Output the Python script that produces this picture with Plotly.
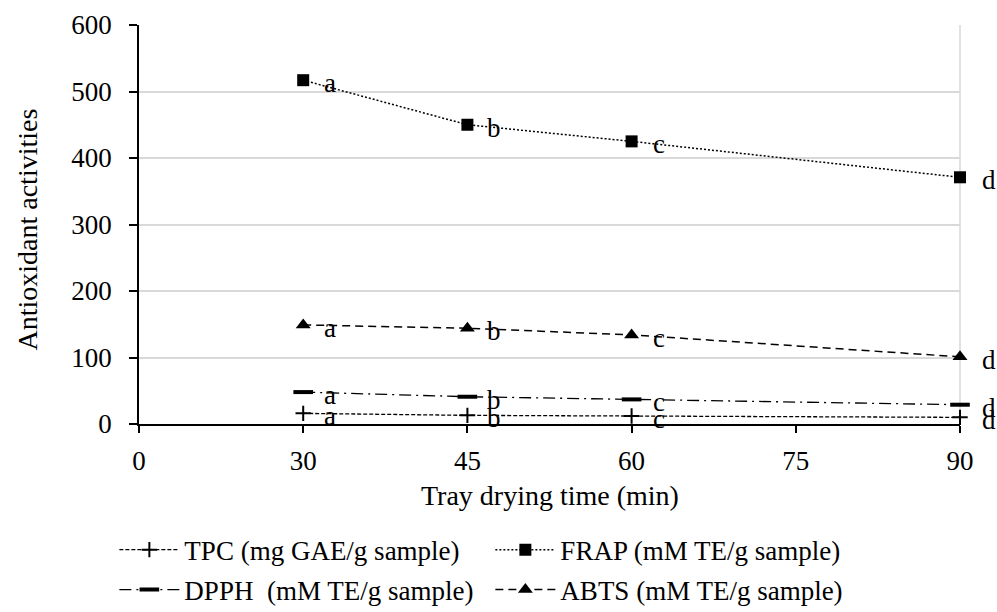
import plotly.graph_objects as go

# ---- data ----
categories = ["0", "30", "45", "60", "75", "90"]
times = ["30", "45", "60", "90"]
tpc = [16, 13, 12, 10]
frap = [517, 450, 425, 371]
dpph = [48, 41, 37, 29]
abts = [149, 144, 134, 101]
letters = ["a", "b", "c", "d"]

names = {
    "tpc": "TPC (mg GAE/g sample)",
    "frap": "FRAP (mM TE/g sample)",
    "dpph": "DPPH  (mM TE/g sample)",
    "abts": "ABTS (mM TE/g sample)",
}
x_title = "Tray drying time (min)"
y_title = "Antioxidant activities"

FONT = "Liberation Serif, Times New Roman, serif"
FS = 27
xpos = [categories.index(t) for t in times]

fig = go.Figure()

fig.add_trace(go.Scatter(
    x=xpos, y=tpc, name=names["tpc"], mode="lines+markers", cliponaxis=False,
    line=dict(color="black", width=1.3, dash="4px,2px"),
    marker=dict(symbol="cross-thin", size=11, line=dict(color="black", width=2)),
    legend="legend"))
fig.add_trace(go.Scatter(
    x=xpos, y=frap, name=names["frap"], mode="lines+markers", cliponaxis=False,
    line=dict(color="black", width=1.5, dash="2px,2px"),
    marker=dict(symbol="square", size=12, color="black"),
    legend="legend"))
fig.add_trace(go.Scatter(
    x=xpos, y=dpph, name=names["dpph"], mode="lines+markers", cliponaxis=False,
    line=dict(color="black", width=1.3, dash="12px,5px,2px,5px"),
    marker=dict(symbol="line-ew", size=14, line=dict(color="black", width=4)),
    legend="legend2"))
fig.add_trace(go.Scatter(
    x=xpos, y=abts, name=names["abts"], mode="lines+markers", cliponaxis=False,
    line=dict(color="black", width=1.5, dash="8px,5px"),
    marker=dict(symbol="triangle-up", size=13, color="black"),
    legend="legend2"))

# letter annotations
for series in (tpc, frap, dpph, abts):
    for xp, yv, lt in zip(xpos, series, letters):
        fig.add_annotation(
            x=xp, y=yv, text=lt, showarrow=False,
            xshift=27 if lt != "d" else 29, yshift=-3,
            font=dict(family=FONT, size=FS, color="black"))

# axis titles
fig.add_annotation(xref="paper", yref="paper", x=0, y=0.5, text=y_title,
                   textangle=-90, showarrow=False, xanchor="center", yanchor="middle",
                   xshift=-112, yshift=-5, font=dict(family=FONT, size=28, color="black"))
fig.add_annotation(xref="paper", yref="paper", x=0.5, y=0, text=x_title,
                   showarrow=False, xanchor="center", yanchor="middle",
                   yshift=-71, font=dict(family=FONT, size=28, color="black"))

# right border
fig.add_shape(type="line", xref="paper", yref="paper", x0=1, x1=1, y0=0, y1=1,
              line=dict(color="#d9d9d9", width=1.5), layer="below")

legend_common = dict(
    orientation="h", xref="paper", yref="paper", xanchor="left", yanchor="middle",
    font=dict(family=FONT, size=FS, color="black"), bgcolor="rgba(0,0,0,0)",
    entrywidth=301, entrywidthmode="pixels", itemwidth=60)

fig.update_layout(
    width=997, height=612,
    margin=dict(l=139, r=37, t=25, b=188, autoexpand=False),
    paper_bgcolor="white", plot_bgcolor="white",
    font=dict(family=FONT, size=FS, color="black"),
    showlegend=True,
    legend=dict(x=-0.030, y=-0.316, **legend_common),
    legend2=dict(x=-0.030, y=-0.416, **legend_common),
    xaxis=dict(
        range=[0, 5], tickmode="array", tickvals=list(range(len(categories))),
        ticktext=categories, showgrid=False, zeroline=False, automargin=False,
        showline=True, linecolor="black", linewidth=1.5,
        ticks="outside", ticklen=7, tickcolor="black", tickwidth=1.5,
        ticklabelstandoff=5),
    yaxis=dict(
        range=[0, 600], dtick=100, showgrid=True, gridcolor="#d9d9d9", gridwidth=1.5,
        zeroline=False, showline=True, linecolor="black", linewidth=1.5,
        automargin=False,
        ticks="outside", ticklen=8, tickcolor="black", tickwidth=1.5,
        ticklabelstandoff=12),
)

fig.write_html(
    "out.html",
    config={"displayModeBar": False},
    post_script="document.body.style.margin='0';document.body.style.overflow='hidden';"
                "document.documentElement.style.overflow='hidden';",
)
